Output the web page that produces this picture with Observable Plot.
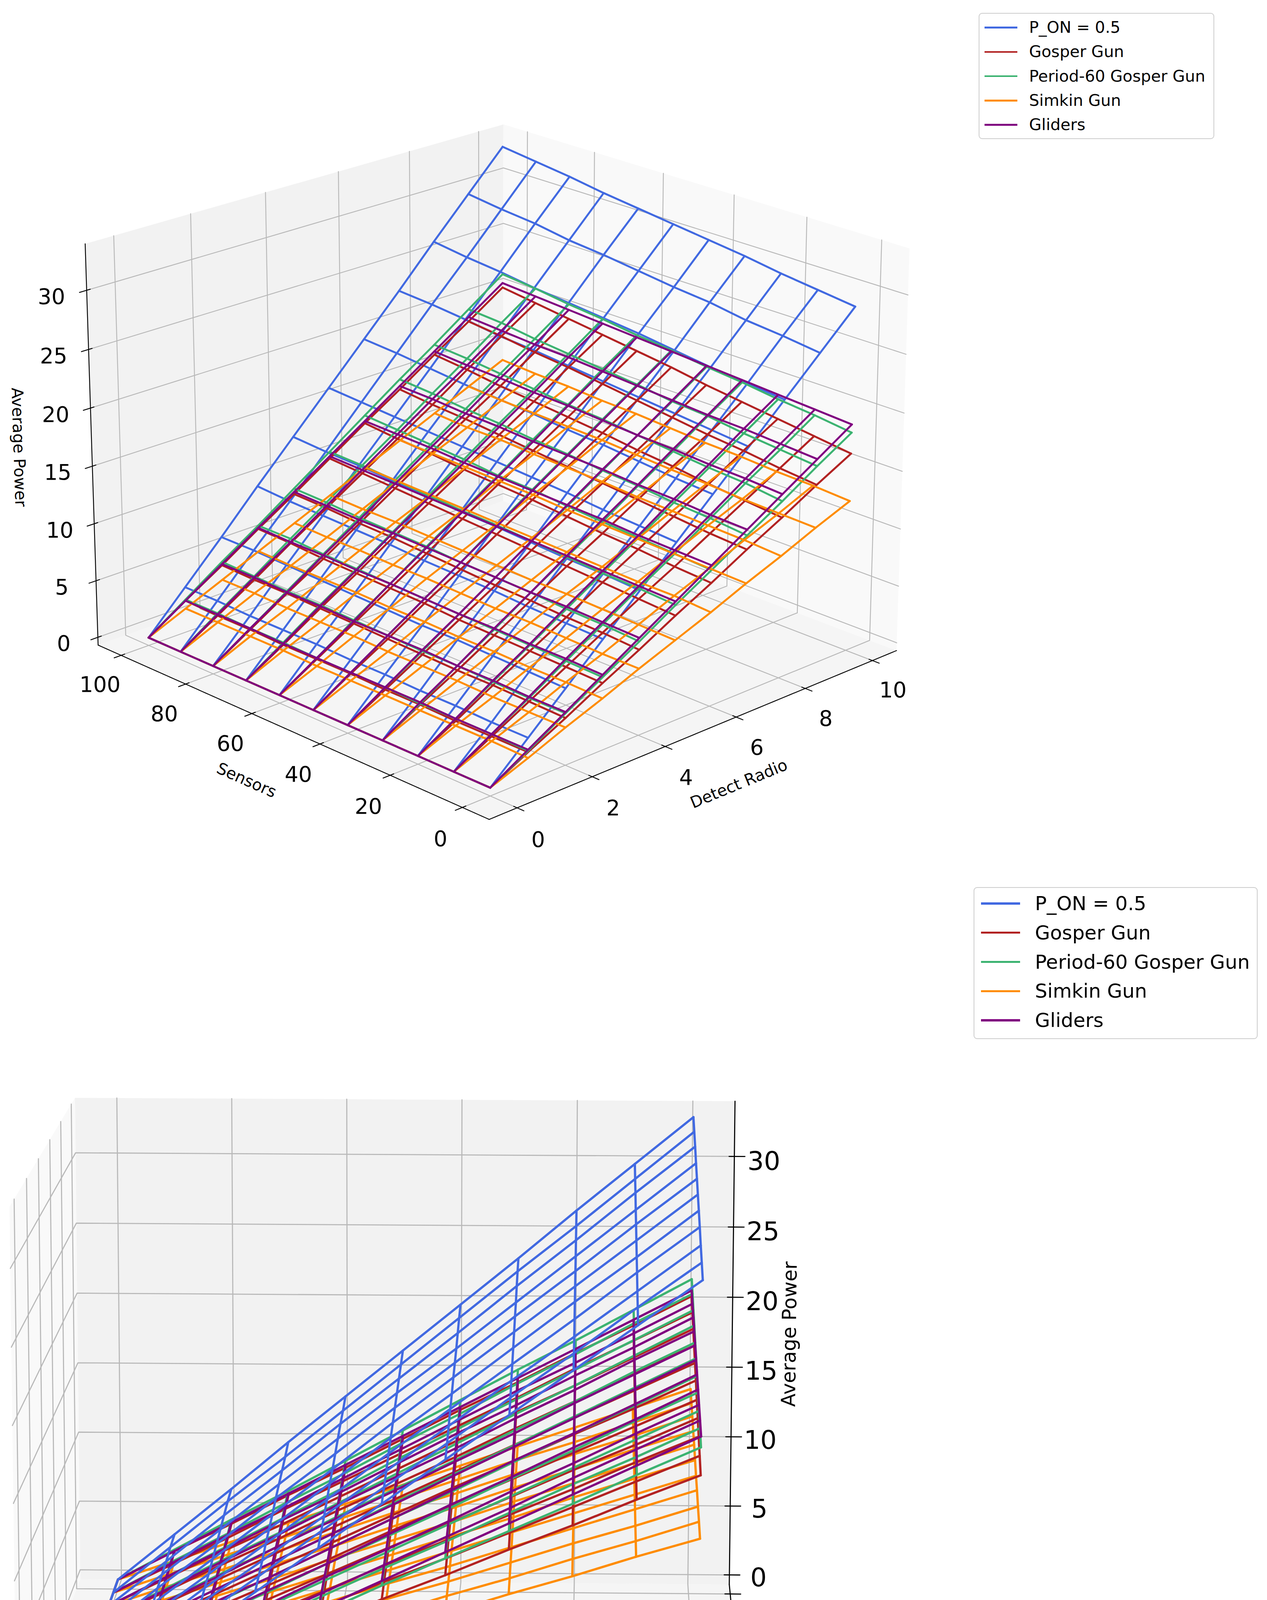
<!DOCTYPE html>
<html><head><meta charset="utf-8">
<script src="https://cdn.jsdelivr.net/npm/d3@7"></script>
<script src="https://cdn.jsdelivr.net/npm/@observablehq/plot@0.6"></script>
<style>
html,body{margin:0;padding:0;background:#fff;}
body{width:3243px;height:4687px;overflow:hidden;font-family:"DejaVu Sans",sans-serif;}
.view{position:relative;width:3243px;}
.view svg{display:block;}
.legend{position:absolute;background:#fff;border:2.4px solid #cccccc;border-radius:9px;box-sizing:border-box;}
</style></head><body>
<div id="v1" class="view"></div>
<div id="v2" class="view"></div>
<script>
// ---------------- data ----------------
const detectRadio = [0,1,2,3,4,5,6,7,8,9,10];
const sensorCounts = [0,10,20,30,40,50,60,70,80,90,100];
const seriesNames = ["P_ON = 0.5","Gosper Gun","Period-60 Gosper Gun","Simkin Gun","Gliders"];
const seriesColors = ["royalblue","firebrick","mediumseagreen","darkorange","purple"];
// rows: sensors 0..100, columns: detect radio 0..10
const powerPON = [
 [0,2.9,5.8,8.7,11.6,14.5,17.4,20.3,23.2,26.1,29.0],
 [0,2.9,5.9,8.8,11.8,14.7,17.6,20.6,23.5,26.5,29.4],
 [0,3.0,6.0,8.9,11.9,14.9,17.9,20.9,23.8,26.8,29.8],
 [0,3.0,6.1,9.1,12.1,15.2,18.2,21.2,24.2,27.3,30.3],
 [0,3.1,6.1,9.2,12.3,15.4,18.4,21.5,24.6,27.6,30.7],
 [0,3.1,6.2,9.3,12.4,15.6,18.7,21.8,24.9,28.0,31.1],
 [0,3.2,6.3,9.5,12.6,15.8,18.9,22.1,25.2,28.4,31.5],
 [0,3.2,6.4,9.6,12.8,16.0,19.1,22.3,25.5,28.7,31.9],
 [0,3.2,6.5,9.7,13.0,16.2,19.4,22.7,25.9,29.2,32.4],
 [0,3.3,6.6,9.8,13.1,16.4,19.7,23.0,26.2,29.5,32.8],
 [0,3.3,6.6,10.0,13.3,16.6,19.9,23.2,26.6,29.9,33.2]
];
const powerGosper = [
 [0,1.7,3.3,5.0,6.6,8.3,9.9,11.6,13.2,14.9,16.5],
 [0,1.7,3.4,5.1,6.8,8.5,10.1,11.8,13.5,15.2,16.9],
 [0,1.7,3.5,5.2,6.9,8.7,10.4,12.1,13.8,15.6,17.3],
 [0,1.8,3.5,5.3,7.1,8.9,10.6,12.4,14.2,15.9,17.7],
 [0,1.8,3.6,5.4,7.2,9.1,10.9,12.7,14.5,16.3,18.1],
 [0,1.9,3.7,5.6,7.4,9.3,11.2,13.0,14.9,16.7,18.6],
 [0,1.9,3.8,5.7,7.6,9.5,11.4,13.3,15.2,17.1,19.0],
 [0,1.9,3.9,5.8,7.8,9.7,11.6,13.6,15.5,17.5,19.4],
 [0,2.0,4.0,5.9,7.9,9.9,11.9,13.9,15.8,17.8,19.8],
 [0,2.0,4.0,6.1,8.1,10.1,12.1,14.1,16.2,18.2,20.2],
 [0,2.1,4.1,6.2,8.2,10.3,12.4,14.4,16.5,18.5,20.6]
];
const powerPeriod60 = [
 [0,1.8,3.7,5.5,7.3,9.2,11.0,12.8,14.6,16.5,18.3],
 [0,1.9,3.7,5.6,7.5,9.4,11.2,13.1,15.0,16.8,18.7],
 [0,1.9,3.8,5.7,7.6,9.5,11.4,13.3,15.2,17.1,19.0],
 [0,1.9,3.9,5.8,7.8,9.7,11.6,13.6,15.5,17.5,19.4],
 [0,2.0,3.9,5.9,7.9,9.9,11.8,13.8,15.8,17.7,19.7],
 [0,2.0,4.0,6.0,8.0,10.1,12.1,14.1,16.1,18.1,20.1],
 [0,2.0,4.1,6.1,8.2,10.2,12.2,14.3,16.3,18.4,20.4],
 [0,2.1,4.2,6.2,8.3,10.4,12.5,14.6,16.6,18.7,20.8],
 [0,2.1,4.2,6.3,8.4,10.6,12.7,14.8,16.9,19.0,21.1],
 [0,2.2,4.3,6.5,8.6,10.8,12.9,15.1,17.2,19.4,21.5],
 [0,2.2,4.4,6.5,8.7,10.9,13.1,15.3,17.4,19.6,21.8]
];
const powerSimkin = [
 [0,1.2,2.5,3.7,5.0,6.2,7.4,8.7,9.9,11.2,12.4],
 [0,1.3,2.5,3.8,5.0,6.3,7.6,8.8,10.1,11.3,12.6],
 [0,1.3,2.5,3.8,5.1,6.4,7.6,8.9,10.2,11.4,12.7],
 [0,1.3,2.6,3.9,5.2,6.5,7.7,9.0,10.3,11.6,12.9],
 [0,1.3,2.6,3.9,5.2,6.5,7.8,9.1,10.4,11.7,13.0],
 [0,1.3,2.6,4.0,5.3,6.6,7.9,9.2,10.6,11.9,13.2],
 [0,1.3,2.7,4.0,5.4,6.7,8.0,9.4,10.7,12.1,13.4],
 [0,1.4,2.7,4.1,5.4,6.8,8.1,9.5,10.8,12.2,13.5],
 [0,1.4,2.7,4.1,5.5,6.9,8.2,9.6,11.0,12.3,13.7],
 [0,1.4,2.8,4.1,5.5,6.9,8.3,9.7,11.0,12.4,13.8],
 [0,1.4,2.8,4.2,5.6,7.0,8.4,9.8,11.2,12.6,14.0]
];
const powerGliders = [
 [0,1.9,3.8,5.7,7.6,9.5,11.4,13.3,15.2,17.1,19.0],
 [0,1.9,3.8,5.8,7.7,9.6,11.5,13.4,15.4,17.3,19.2],
 [0,1.9,3.9,5.8,7.8,9.7,11.6,13.6,15.5,17.5,19.4],
 [0,2.0,3.9,5.9,7.8,9.8,11.8,13.7,15.7,17.6,19.6],
 [0,2.0,4.0,5.9,7.9,9.9,11.9,13.9,15.8,17.8,19.8],
 [0,2.0,4.0,6.0,8.0,10.0,12.0,14.0,16.0,18.0,20.0],
 [0,2.0,4.0,6.1,8.1,10.1,12.1,14.1,16.2,18.2,20.2],
 [0,2.0,4.1,6.1,8.2,10.2,12.2,14.3,16.3,18.4,20.4],
 [0,2.1,4.1,6.2,8.2,10.3,12.4,14.4,16.5,18.5,20.6],
 [0,2.1,4.2,6.2,8.3,10.4,12.5,14.6,16.6,18.7,20.8],
 [0,2.1,4.2,6.3,8.4,10.5,12.6,14.7,16.8,18.9,21.0]
];
const detectTicks = [0,2,4,6,8,10];
const sensorTicks = [0,20,40,60,80,100];
const powerTicks = [0,5,10,15,20,25,30];
const axisTitles = {x:"Detect Radio", y:"Sensors", z:"Average Power"};

const series = [powerPON, powerGosper, powerPeriod60, powerSimkin, powerGliders]
  .map((power, i) => ({name: seriesNames[i], color: seriesColors[i], power}));

// ---------------- 3D axes limits (matplotlib style) ----------------
const zAll = series.flatMap(s => s.power.flat());
const dataRange = [d3.extent(detectRadio), d3.extent(sensorCounts), d3.extent(zAll)];
const marginFrac = [0.05, 0.05, 0];
const lims = dataRange.map(([lo, hi], i) => { const m = (hi - lo) * marginFrac[i]; return [lo - m, hi + m]; });
const deltas = lims.map(([lo, hi]) => (hi - lo) / 12);
const bounds = lims.map(([lo, hi], i) => [lo - deltas[i] / 4, hi + deltas[i] / 4]);
const boxAspect = [4, 4, 3].map(v => v * 1.8294640721620434 / Math.hypot(4, 4, 3));

function makeProjection(v) {
  const e = v.elev * Math.PI / 180, a = v.azim * Math.PI / 180;
  const w = [Math.cos(e) * Math.cos(a), Math.cos(e) * Math.sin(a), Math.sin(e)];
  const un = Math.hypot(w[0], w[1]);
  const u = [-w[1] / un, w[0] / un, 0];
  const vv = [w[1]*u[2] - w[2]*u[1], w[2]*u[0] - w[0]*u[2], w[0]*u[1] - w[1]*u[0]];
  const proj = p => {
    const d = p.map((t, i) => (t - lims[i][0]) / (lims[i][1] - lims[i][0]) * boxAspect[i] - boxAspect[i] / 2);
    const depth = 10 - (w[0]*d[0] + w[1]*d[1] + w[2]*d[2]);
    return [(u[0]*d[0] + u[1]*d[1] + u[2]*d[2]) / depth, (vv[0]*d[0] + vv[1]*d[1] + vv[2]*d[2]) / depth, depth];
  };
  return proj;
}

const views = [
  {id:"v1", width:3243, height:2240, elev:21, azim:-134, k:12334, cx:1271, cy:1152,
   xBack:1, zEdge:[0,1], fT:0.62, fL:1.13, tickFont:55, labelFont:41, wire:5, thin:2.3,
   tickDy:6, zTickDx:14, zTickDy:18,
   legend:{left:2505, top:33, width:603, height:323, first:35.7, step:62.2, swL:13, swR:97, textX:127, font:41, sw:4.6}},
  {id:"v2", width:3243, height:2447, elev:11.5, azim:-88, k:14900, cx:1005, cy:1363.8,
   xBack:0, zEdge:[1,1], fT:0.62, fL:1.13, tickFont:66, labelFont:50, wire:5.8, thin:2.8,
   tickDy:7, zTickDx:-6, zTickDy:26,
   legend:{left:2492, top:31, width:727, height:389, first:40, step:74.75, swL:16.5, swR:117, textX:155, font:50, sw:5.3}}
];

function render(v) {
  const P = makeProjection(v);
  const pt = (x, y, z, extra) => { const [X, Y, depth] = P([x, y, z]); return {X, Y, depth, ...extra}; };
  const toPx = p => [v.cx + v.k * p.X, v.cy - v.k * p.Y];
  const textAngle = (p1, p2) => {
    const [x1, y1] = toPx(p1), [x2, y2] = toPx(p2);
    let a = Math.atan2(-(y2 - y1), x2 - x1) * 180 / Math.PI;
    a = ((a + 180) % 180 + 180) % 180;
    if (a > 90) a -= 180;
    return -a;
  };
  const [bx, by, bz] = bounds;
  const [dx, dy, dz] = deltas;
  const xb = v.xBack, xf = 1 - xb, yb = 1, yf = 0;
  const [ze0, ze1] = v.zEdge;
  const sy = yf === 0 ? -1 : 1, sx = xf === 0 ? -1 : 1;
  const szx = ze0 === 0 ? -1 : 1, szy = ze1 === 0 ? -1 : 1;

  const poly = cs => cs.map(c => pt(...c, {}));
  const floor = poly([[bx[0],by[0],bz[0]],[bx[1],by[0],bz[0]],[bx[1],by[1],bz[0]],[bx[0],by[1],bz[0]],[bx[0],by[0],bz[0]]]);
  const yPane = poly([[bx[0],by[yb],bz[0]],[bx[1],by[yb],bz[0]],[bx[1],by[yb],bz[1]],[bx[0],by[yb],bz[1]],[bx[0],by[yb],bz[0]]]);
  const xPane = poly([[bx[xb],by[0],bz[0]],[bx[xb],by[1],bz[0]],[bx[xb],by[1],bz[1]],[bx[xb],by[0],bz[1]],[bx[xb],by[0],bz[0]]]);

  const grid = [];
  detectTicks.forEach(t => { const id = "gx" + t; grid.push(pt(t, by[yf], bz[0], {id}), pt(t, by[yb], bz[0], {id}), pt(t, by[yb], bz[1], {id})); });
  sensorTicks.forEach(t => { const id = "gy" + t; grid.push(pt(bx[xf], t, bz[0], {id}), pt(bx[xb], t, bz[0], {id}), pt(bx[xb], t, bz[1], {id})); });
  powerTicks.forEach(t => { const id = "gz" + t; grid.push(pt(bx[xf], by[yb], t, {id}), pt(bx[xb], by[yb], t, {id}), pt(bx[xb], by[yf], t, {id})); });

  const axX = [pt(bx[0], by[yf], bz[0], {id:"ax"}), pt(bx[1], by[yf], bz[0], {id:"ax"})];
  const axY = [pt(bx[xf], by[0], bz[0], {id:"ay"}), pt(bx[xf], by[1], bz[0], {id:"ay"})];
  const axZ = [pt(bx[ze0], by[ze1], bz[0], {id:"az"}), pt(bx[ze0], by[ze1], bz[1], {id:"az"})];

  const ticks = [], floorLabels = [], zLabels = [];
  detectTicks.forEach(t => {
    const id = "tx" + t;
    ticks.push(pt(t, by[yf] + sy*0.2*dy, bz[0], {id}), pt(t, by[yf] - sy*0.1*dy, bz[0], {id}));
    floorLabels.push(pt(t, by[yf] + sy*v.fT*dy, bz[0] - v.fT*dz, {text: String(t)}));
  });
  sensorTicks.forEach(t => {
    const id = "ty" + t;
    ticks.push(pt(bx[xf] + sx*0.2*dx, t, bz[0], {id}), pt(bx[xf] - sx*0.1*dx, t, bz[0], {id}));
    floorLabels.push(pt(bx[xf] + sx*v.fT*dx, t, bz[0] - v.fT*dz, {text: String(t)}));
  });
  powerTicks.forEach(t => {
    const id = "tz" + t;
    ticks.push(pt(bx[ze0] + szx*0.2*dx, by[ze1], t, {id}), pt(bx[ze0] - szx*0.1*dx, by[ze1], t, {id}));
    zLabels.push(pt(bx[ze0] + szx*v.fT*dx, by[ze1] + szy*v.fT*dy, t, {text: String(t)}));
  });

  const titleX = pt((bx[0] + bx[1]) / 2, by[yf] + sy*v.fL*dy, bz[0] - v.fL*dz, {text: axisTitles.x});
  const titleY = pt(bx[xf] + sx*v.fL*dx, (by[0] + by[1]) / 2, bz[0] - v.fL*dz, {text: axisTitles.y});
  const titleZ = pt(bx[ze0] + szx*v.fL*dx, by[ze1] + szy*v.fL*dy, (bz[0] + bz[1]) / 2, {text: axisTitles.z});

  const wire = s => {
    const out = [];
    s.power.forEach((row, r) => row.forEach((z, c) => out.push(pt(detectRadio[c], sensorCounts[r], z, {id: "s" + r}))));
    detectRadio.forEach((d, c) => sensorCounts.forEach((sv, r) => out.push(pt(d, sv, s.power[r][c], {id: "d" + c}))));
    return out;
  };
  // matplotlib-like painter's order: the collection whose nearest point is farther is drawn first
  // (ties keep plotting order)
  const wires = series.map((s, i) => ({s, i, pts: wire(s)}));
  wires.forEach(w => { w.near = Math.round(d3.min(w.pts, p => p.depth) * 1e6) / 1e6; });
  const ordered = wires.slice().sort((a, b) => (b.near - a.near) || (a.i - b.i));

  const font = "DejaVu Sans";
  const svg = Plot.plot({
    width: v.width, height: v.height, margin: 0,
    style: {fontFamily: font, background: "transparent"},
    x: {type: "linear", domain: [-v.cx / v.k, (v.width - v.cx) / v.k], range: [0, v.width], axis: null},
    y: {type: "linear", domain: [(v.cy - v.height) / v.k, v.cy / v.k], range: [v.height, 0], axis: null},
    marks: [
      Plot.line(floor, {x: "X", y: "Y", fill: "#f5f5f5", stroke: "none"}),
      Plot.line(yPane, {x: "X", y: "Y", fill: "#f2f2f2", stroke: "none"}),
      Plot.line(xPane, {x: "X", y: "Y", fill: "#f9f9f9", stroke: "none"}),
      Plot.line(grid, {x: "X", y: "Y", z: "id", stroke: "#b8b8b8", strokeWidth: v.thin}),
      Plot.line([...axX, ...axY, ...axZ], {x: "X", y: "Y", z: "id", stroke: "black", strokeWidth: v.thin}),
      Plot.line(ticks, {x: "X", y: "Y", z: "id", stroke: "black", strokeWidth: v.thin}),
      ...ordered.map(w => Plot.line(w.pts, {x: "X", y: "Y", z: "id", stroke: w.s.color, strokeWidth: v.wire, strokeLinejoin: "round"})),
      Plot.text(floorLabels, {x: "X", y: "Y", text: "text", fontSize: v.tickFont, fontFamily: font, fill: "black", textAnchor: "middle", dy: v.tickDy}),
      Plot.text(zLabels, {x: "X", y: "Y", text: "text", fontSize: v.tickFont, fontFamily: font, fill: "black", textAnchor: "middle", dx: v.zTickDx, dy: v.zTickDy}),
      Plot.text([titleX], {x: "X", y: "Y", text: "text", fontSize: v.labelFont, fontFamily: font, fill: "black", rotate: textAngle(axX[0], axX[1])}),
      Plot.text([titleY], {x: "X", y: "Y", text: "text", fontSize: v.labelFont, fontFamily: font, fill: "black", rotate: textAngle(axY[0], axY[1])}),
      Plot.text([titleZ], {x: "X", y: "Y", text: "text", fontSize: v.labelFont, fontFamily: font, fill: "black", rotate: textAngle(axZ[0], axZ[1])})
    ]
  });
  const host = document.getElementById(v.id);
  host.style.height = v.height + "px";
  host.appendChild(svg);

  // legend
  const L = v.legend;
  const box = document.createElement("div");
  box.className = "legend";
  Object.assign(box.style, {left: L.left + "px", top: L.top + "px", width: L.width + "px", height: L.height + "px"});
  seriesNames.forEach((name, i) => {
    const c = L.first + i * L.step;
    const sw = document.createElement("div");
    Object.assign(sw.style, {position: "absolute", left: L.swL + "px", width: (L.swR - L.swL) + "px",
      top: (c - L.sw / 2) + "px", height: L.sw + "px", background: seriesColors[i]});
    const tx = document.createElement("div");
    Object.assign(tx.style, {position: "absolute", left: L.textX + "px", top: (c - L.font * 0.6) + "px",
      height: (L.font * 1.2) + "px", lineHeight: (L.font * 1.2) + "px", fontSize: L.font + "px",
      fontFamily: font, whiteSpace: "nowrap", color: "#000"});
    tx.textContent = name;
    box.appendChild(sw); box.appendChild(tx);
  });
  host.appendChild(box);
}
views.forEach(render);
</script>
</body></html>
